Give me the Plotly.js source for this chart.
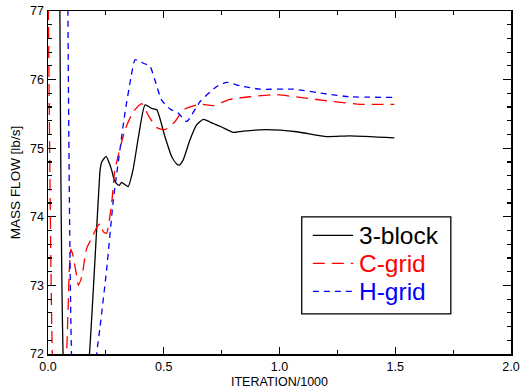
<!DOCTYPE html>
<html>
<head>
<meta charset="utf-8">
<script src="https://cdn.plot.ly/plotly-3.0.1.min.js"></script>
<style>html,body{margin:0;padding:0;background:#fff;}#chart{width:521px;height:392px;}</style>
</head>
<body>
<div id="chart"></div>
<script>
// ---- data ----
const seriesNames = ["3-block", "C-grid", "H-grid"];

const blockX = [0.05, 0.07, 0.12, 0.178, 0.217, 0.225, 0.232, 0.251, 0.265, 0.275, 0.286, 0.297, 0.308, 0.318, 0.332, 0.346, 0.367, 0.39, 0.419, 0.448, 0.47, 0.505, 0.534, 0.556, 0.567, 0.584, 0.613, 0.642, 0.671, 0.714, 0.743, 0.779, 0.80, 0.844, 0.945, 1.074, 1.204, 1.305, 1.496];
const blockY = [78.0, 71.5, 70.0, 71.95, 74.24, 74.68, 74.80, 74.88, 74.78, 74.68, 74.54, 74.48, 74.46, 74.50, 74.47, 74.44, 74.68, 75.15, 75.63, 75.58, 75.56, 75.17, 74.88, 74.77, 74.755, 74.83, 75.12, 75.34, 75.42, 75.36, 75.32, 75.26, 75.23, 75.25, 75.27, 75.24, 75.17, 75.18, 75.15];

const cgridX = [0.0, 0.02, 0.05, 0.081, 0.088, 0.092, 0.099, 0.109, 0.124, 0.131, 0.146, 0.167, 0.189, 0.213, 0.225, 0.239, 0.253, 0.275, 0.289, 0.333, 0.368, 0.405, 0.433, 0.470, 0.505, 0.549, 0.584, 0.657, 0.713, 0.786, 0.873, 0.988, 1.089, 1.232, 1.348, 1.496];
const cgridY = [77.6, 71.8, 70.0, 72.06, 72.79, 73.22, 73.53, 73.42, 73.13, 73.0, 73.13, 73.54, 73.69, 73.86, 73.90, 73.78, 73.76, 74.2, 74.68, 75.27, 75.53, 75.65, 75.48, 75.30, 75.27, 75.39, 75.56, 75.64, 75.62, 75.71, 75.75, 75.78, 75.74, 75.68, 75.64, 75.64];

const hgridX = [0.085, 0.106, 0.15, 0.21, 0.225, 0.253, 0.282, 0.297, 0.333, 0.359, 0.376, 0.405, 0.441, 0.462, 0.491, 0.527, 0.563, 0.599, 0.657, 0.729, 0.772, 0.829, 0.916, 1.06, 1.204, 1.305, 1.496];
const hgridY = [77.5, 71.5, 70.0, 72.0, 72.40, 73.22, 74.24, 74.63, 75.53, 76.04, 76.29, 76.25, 76.19, 75.99, 75.70, 75.57, 75.51, 75.39, 75.68, 75.90, 75.96, 75.91, 75.86, 75.86, 75.79, 75.75, 75.74];

const xTickVals = [0, 0.5, 1.0, 1.5, 2.0];
const xTickText = ["0.0", "0.5", "1.0", "1.5", "2.0"];
const yTickVals = [72, 73, 74, 75, 76, 77];
const yTickText = ["72", "73", "74", "75", "76", "77"];

// ---- styles ----
const colors = ["#000000", "#ff0000", "#0000ff"];
const dashes = ["solid", "12px,7px", "6px,5px"];
const FONT = "'Liberation Sans', Arial, Helvetica, sans-serif";

const xs = [blockX, cgridX, hgridX];
const ys = [blockY, cgridY, hgridY];

const traces = seriesNames.map((n, i) => ({
  type: "scatter", mode: "lines", name: n,
  x: xs[i], y: ys[i],
  line: {color: colors[i], width: 1.3, dash: dashes[i], shape: "spline", smoothing: 0.5},
  showlegend: false, hoverinfo: "skip"
}));

// manual legend (box, sample lines, labels) in plot-area paper coords
const lx0 = 0.548, lx1 = 0.870, ly0 = 0.117, ly1 = 0.400;
const rowY = [0.3456, 0.264, 0.1824];
const shapes = [{type: "rect", xref: "paper", yref: "paper", x0: lx0, x1: lx1, y0: ly0, y1: ly1,
  line: {color: "#000", width: 1.3}, fillcolor: "#fff", layer: "above"}];
const annotations = [];
seriesNames.forEach((n, i) => {
  shapes.push({type: "line", xref: "paper", yref: "paper", x0: 0.572, x1: 0.659, y0: rowY[i], y1: rowY[i],
    line: {color: colors[i], width: 1.3, dash: dashes[i]}, layer: "above"});
  annotations.push({xref: "paper", yref: "paper", x: 0.670, y: rowY[i], xanchor: "left", yanchor: "middle",
    text: n, showarrow: false, borderpad: 0, font: {family: FONT, size: 24.5, color: colors[i]}});
});

const axisCommon = {
  showgrid: false, zeroline: false, showline: true, linecolor: "#000", linewidth: 1.5,
  mirror: "allticks", ticks: "inside", tickcolor: "#000", tickwidth: 1.2,
  tickfont: {family: FONT, size: 12.5, color: "#000"}
};

const layout = {
  width: 521, height: 392,
  margin: {l: 48, r: 10, t: 11, b: 38},
  paper_bgcolor: "#fff", plot_bgcolor: "#fff",
  font: {family: FONT, color: "#000"},
  showlegend: false,
  xaxis: Object.assign({}, axisCommon, {
    range: [0, 2], tickmode: "array", tickvals: xTickVals, ticktext: xTickText, ticklen: 7,
    minor: {dtick: 0.25, tick0: 0, ticks: "inside", ticklen: 4, tickcolor: "#000", tickwidth: 1.2},
    title: {text: "ITERATION/1000", font: {family: FONT, size: 12.5, color: "#000"}, standoff: 4}
  }),
  yaxis: Object.assign({}, axisCommon, {
    range: [72, 77], tickmode: "array", tickvals: yTickVals, ticktext: yTickText, ticklen: 8,
    minor: {dtick: 0.2, tick0: 72, ticks: "inside", ticklen: 4, tickcolor: "#000", tickwidth: 1.2},
    title: {text: "MASS FLOW [lb/s]", font: {family: FONT, size: 13.5, color: "#000"}, standoff: 6}
  }),
  shapes: shapes,
  annotations: annotations
};

Plotly.newPlot("chart", traces, layout, {staticPlot: true, displayModeBar: false});
</script>
</body>
</html>
